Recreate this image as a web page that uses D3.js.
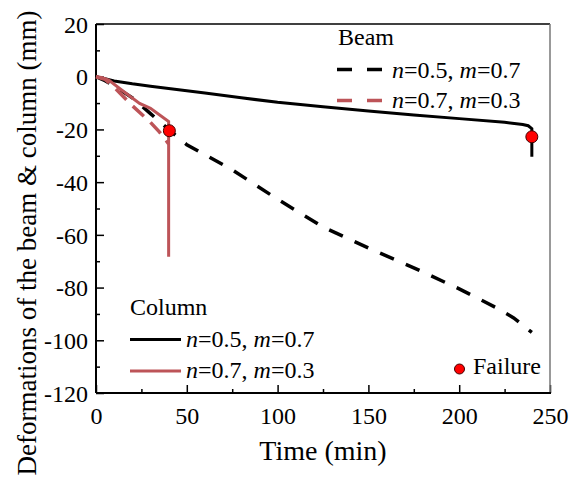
<!DOCTYPE html>
<html><head><meta charset="utf-8">
<script src="https://cdn.jsdelivr.net/npm/d3@7"></script>
<style>
body{margin:0;background:#fff;}
svg text{font-family:"Liberation Serif","Times New Roman",serif;fill:#000;}
</style></head>
<body><svg id="c" width="574" height="479" font-family="Liberation Serif"></svg>
<script>
// ---- data ----
const beamA_t = [0,5,10,20,30,40,50,75,100,125,150,175,200,220,230,240];
const beamA_v = [0,-1.5,-3.5,-8,-14,-20,-25.8,-35.3,-46.5,-57,-65,-72.5,-80.5,-87.5,-91.5,-97];
const beamB_t = [0,5,10,20,30,35,40];
const beamB_v = [0,-1,-4,-11,-17.3,-21,-25.5];
const colA_t = [0,5,10,20,30,40,60,80,100,125,150,175,200,225,235,238,240,240];
const colA_v = [0,-0.8,-1.6,-2.7,-3.6,-4.5,-6.2,-8,-9.7,-11.4,-13,-14.5,-15.9,-17.3,-18.1,-18.6,-19.7,-30.4];
const colB_t = [0,3,7,15,24,30,40,40];
const colB_v = [0,-0.3,-1.3,-5.5,-10.1,-12,-17,-68.3];
const fail_t = [40.4,240];
const fail_v = [-20.5,-22.8];
const xTicks = [0,50,100,150,200,250];
const yTicks = [20,0,-20,-40,-60,-80,-100,-120];
const legendLabels = ["n=0.5, m=0.7","n=0.7, m=0.3"];

const FONT = "'Liberation Serif','Times New Roman',serif";
const svg = d3.select("#c");
const L=96,T=24,R=550,B=393;
const x = d3.scaleLinear().domain([0,250]).range([L,R]);
const y = d3.scaleLinear().domain([-120,20]).range([B,T]);
const RED = "#bd5458";

// axes
const xAx = d3.axisBottom(x).tickValues(xTicks).tickSize(-8).tickPadding(14).tickFormat(d3.format("d"));
const gx = svg.append("g").attr("transform",`translate(0,${B})`).call(xAx);
const xMinor = d3.axisBottom(x).tickValues([25,75,125,175,225]).tickSize(-4).tickFormat("");
svg.append("g").attr("transform",`translate(0,${B})`).call(xMinor);
const yAx = d3.axisLeft(y).tickValues(yTicks).tickSize(-8).tickPadding(8).tickFormat(d=>d<0?"-"+Math.abs(d):d);
const gy = svg.append("g").attr("transform",`translate(${L},0)`).call(yAx);
const yMinor = d3.axisLeft(y).tickValues([10,-10,-30,-50,-70,-90,-110]).tickSize(-4).tickFormat("");
svg.append("g").attr("transform",`translate(${L},0)`).call(yMinor);
svg.selectAll("g").attr("font-family",FONT).attr("font-size",24);
svg.selectAll(".domain").remove();
svg.selectAll(".tick line").attr("stroke","#000").attr("stroke-width",1.5);
svg.selectAll(".tick text").attr("font-family",FONT).attr("font-size",24).attr("fill","#000");
gx.selectAll(".tick text").attr("dy","0.71em");
gy.selectAll(".tick text").attr("dy","0.34em");

// frame
svg.append("line").attr("x1",L).attr("x2",R).attr("y1",T).attr("y2",T).attr("stroke","#000").attr("stroke-width",1.5);
svg.append("line").attr("x1",R).attr("x2",R).attr("y1",T).attr("y2",B).attr("stroke","#777").attr("stroke-width",1.5);
svg.append("line").attr("x1",L).attr("x2",R+1).attr("y1",B).attr("y2",B).attr("stroke","#000").attr("stroke-width",2);
svg.append("line").attr("x1",L).attr("x2",L).attr("y1",T).attr("y2",B).attr("stroke","#000").attr("stroke-width",2);

const line = d3.line().x(d=>x(d[0])).y(d=>y(d[1]));
const zip=(a,b)=>a.map((t,i)=>[t,b[i]]);

svg.append("path").attr("d",line(zip(beamA_t,beamA_v))).attr("fill","none").attr("stroke","#000").attr("stroke-width",3.5).attr("stroke-dasharray","15,13");
svg.append("path").attr("d",line(zip(colA_t,colA_v))).attr("fill","none").attr("stroke","#000").attr("stroke-width",3);
svg.append("path").attr("d",line(zip(beamB_t,beamB_v))).attr("fill","none").attr("stroke",RED).attr("stroke-width",3.5).attr("stroke-dasharray","15,9");
svg.append("path").attr("d",line(zip(colB_t,colB_v))).attr("fill","none").attr("stroke",RED).attr("stroke-width",3);

svg.selectAll("circle.f").data(zip(fail_t,fail_v)).enter().append("circle")
  .attr("cx",d=>x(d[0])).attr("cy",d=>y(d[1])).attr("r",6)
  .attr("fill","#ff0000").attr("stroke","#400").attr("stroke-width",1);

// legend helper
function label(g,xp,yp,txt){
  const t=g.append("text").attr("x",xp).attr("y",yp).attr("font-family",FONT).attr("font-size",24);
  const m=txt.match(/^n=(.*), m=(.*)$/);
  t.append("tspan").attr("font-style","italic").text("n");
  t.append("tspan").text("="+m[1]+", ");
  t.append("tspan").attr("font-style","italic").text("m");
  t.append("tspan").text("="+m[2]);
}
const lg=svg.append("g");
lg.append("text").attr("x",338).attr("y",45).attr("font-family",FONT).attr("font-size",24).text("Beam");
lg.append("line").attr("x1",337).attr("x2",382).attr("y1",69.5).attr("y2",69.5).attr("stroke","#000").attr("stroke-width",3.5).attr("stroke-dasharray","15,15");
lg.append("line").attr("x1",337).attr("x2",382).attr("y1",100.5).attr("y2",100.5).attr("stroke",RED).attr("stroke-width",3.5).attr("stroke-dasharray","15,15");
label(lg,392,78,legendLabels[0]);
label(lg,392,108,legendLabels[1]);

lg.append("text").attr("x",130).attr("y",315).attr("font-family",FONT).attr("font-size",24).text("Column");
lg.append("line").attr("x1",130).attr("x2",181).attr("y1",339.5).attr("y2",339.5).attr("stroke","#000").attr("stroke-width",3);
lg.append("line").attr("x1",130).attr("x2",181).attr("y1",371).attr("y2",371).attr("stroke",RED).attr("stroke-width",3);
label(lg,186,347,legendLabels[0]);
label(lg,186,378,legendLabels[1]);

lg.append("circle").attr("cx",459.5).attr("cy",369).attr("r",5).attr("fill","#ff0000").attr("stroke","#400").attr("stroke-width",1);
lg.append("text").attr("x",473).attr("y",374).attr("font-family",FONT).attr("font-size",24).text("Failure");

// titles
svg.append("text").attr("x",(L+R)/2).attr("y",460).attr("text-anchor","middle").attr("font-family",FONT).attr("font-size",28).text("Time (min)");
svg.append("text").attr("transform","translate(36,243) rotate(-90)").attr("text-anchor","middle").attr("font-family",FONT).attr("font-size",27).text("Deformations of the beam & column (mm)");
</script></body></html>
